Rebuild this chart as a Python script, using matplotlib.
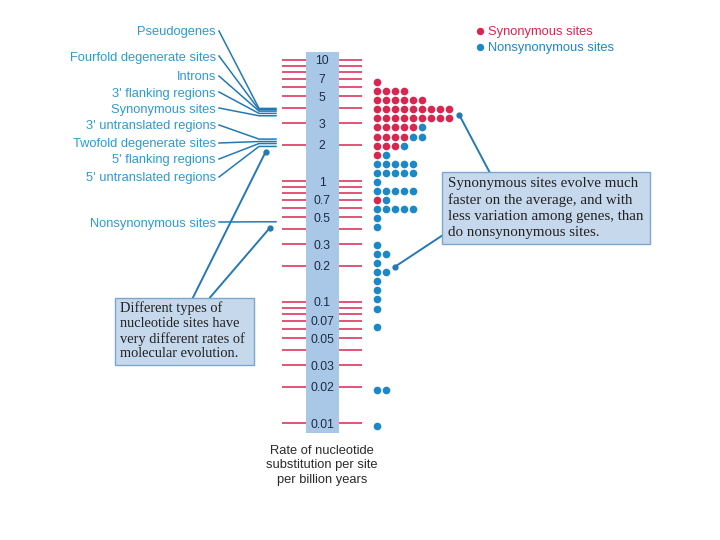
import matplotlib
matplotlib.use("Agg")
import matplotlib.pyplot as plt
from matplotlib.patches import Rectangle

# rows of dots (rate per site per billion years) and genes per row
row_rates = [6.54, 5.51, 4.64, 3.90, 3.29, 2.77, 2.33, 1.96, 1.65, 1.39,
             1.17, 0.984, 0.829, 0.697, 0.587, 0.494, 0.416, 0.295, 0.248,
             0.209, 0.176, 0.148, 0.125, 0.105, 0.0883, 0.0626, 0.0187, 0.0094]
syn_counts = [1, 4, 6, 9, 9, 5, 4, 3, 1, 0, 0, 0, 0, 1,
              0, 0, 0, 0, 0, 0, 0, 0, 0, 0, 0, 0, 0, 0]
nonsyn_counts = [0, 0, 0, 0, 0, 1, 2, 1, 1, 5, 5, 1, 5, 1,
                 5, 1, 1, 1, 2, 1, 2, 1, 1, 1, 1, 1, 2, 1]

# site types on the left and their rates
site_types = ["Pseudogenes", "Fourfold degenerate sites", "Introns",
              "3' flanking regions", "Synonymous sites", "3' untranslated regions",
              "Twofold degenerate sites", "5' flanking regions",
              "5' untranslated regions", "Nonsynonymous sites"]
site_rates = [3.98, 3.88, 3.78, 3.62, 3.46, 2.22, 2.12, 2.04, 1.93, 0.46]
site_label_y = [31, 56, 76, 92, 108, 125, 143, 159, 177, 222]  # layout only

scale_labels = ["10", "7", "5", "3", "2", "1", "0.7", "0.5", "0.3", "0.2",
                "0.1", "0.07", "0.05", "0.03", "0.02", "0.01"]
scale_ticks = [m * 10.0 ** e for e in (-2, -1, 0) for m in range(1, 10)] + [10]

RED = "#d8264f"
BLUE = "#1c88c8"
LABEL_BLUE = "#2d9ad3"
LINE_BLUE = "#2479b3"
COL = "#a9c8e7"
BOX = "#c6d8ec"
NAVY = "#1c2b45"
SANS = "Liberation Sans"
SERIF = "Liberation Serif"


def ypx(p):
    # pixel row -> rate on the log axis
    return 10 ** ((181 - p) / 121)


def fxy(x, y):
    return x / 720, 1 - y / 540


fig = plt.figure(figsize=(7.2, 5.4), dpi=100)
ax = fig.add_axes([0, 0, 1, 1])
ax.set_xlim(0, 720)
ax.set_yscale("log")
ax.set_ylim(ypx(540), ypx(0))
ax.axis("off")

# the scale column
ax.fill_betweenx([ypx(433), ypx(52)], 305.5, 339, color=COL, lw=0, zorder=1)
ax.hlines(scale_ticks, 282, 305.5, color=RED, lw=1.1, zorder=2)
ax.hlines(scale_ticks, 339, 362, color=RED, lw=1.1, zorder=2)
for lab in scale_labels:
    ax.text(322, float(lab), lab, ha="center", va="center_baseline",
            fontsize=8.8, color=NAVY, family=SANS, zorder=3)

# dots
for r, ns, nn in zip(row_rates, syn_counts, nonsyn_counts):
    for i in range(ns + nn):
        c = RED if i < ns else BLUE
        ax.plot(377.3 + 9 * i, r, "o", ms=5.5, color=c, mec="none", zorder=3)

# site type labels with leader lines
for name, r, ly in zip(site_types, site_rates, site_label_y):
    ax.text(216, ypx(ly), name, ha="right", va="center_baseline", fontsize=9.3,
            color=LABEL_BLUE, family=SANS)
    ax.plot([219, 259, 276], [ypx(ly), r, r], color=LINE_BLUE, lw=1.1,
            solid_joinstyle="miter")

# left annotation box
ax.plot([193, 265.7], [ypx(297.5), ypx(151.7)], color=LINE_BLUE, lw=1.4)
ax.plot([210, 270], [ypx(297.5), ypx(227.7)], color=LINE_BLUE, lw=1.4)
ax.plot([265.7, 270], [ypx(151.7), ypx(227.7)], "o", ms=3.5, color=LINE_BLUE)
fig.patches.append(Rectangle(fxy(115, 365), 139 / 720, 67.5 / 540,
                             transform=fig.transFigure, fc=BOX, ec="#7aa6cf",
                             lw=1.0, zorder=5))
fig.text(*fxy(120, 301.5), "Different types of\nnucleotide sites have\n"
         "very different rates of\nmolecular evolution.", ha="left", va="top",
         fontsize=10.4, family=SERIF, color="#222222",
         linespacing=1.17, zorder=6)

# right annotation box
ax.plot([459.3, 490], [ypx(115), ypx(173)], color=LINE_BLUE, lw=1.4)
ax.plot([395, 443], [ypx(266.7), ypx(235)], color=LINE_BLUE, lw=1.4)
ax.plot([459.3, 395], [ypx(115), ypx(266.7)], "o", ms=3.5, color=LINE_BLUE)
fig.patches.append(Rectangle(fxy(442, 244.5), 208 / 720, 72 / 540,
                             transform=fig.transFigure, fc=BOX, ec="#7aa6cf",
                             lw=1.0, zorder=5))
fig.text(*fxy(447.5, 177), "Synonymous sites evolve much\nfaster on the average, and with\n"
         "less variation among genes, than\ndo nonsynonymous sites.",
         ha="left", va="top", fontsize=10.8, family=SERIF,
         color="#222222", linespacing=1.3, zorder=6)

# legend
ax.plot([479.5], [ypx(31)], "o", ms=5.3, color=RED, mec="none")
ax.plot([479.5], [ypx(47)], "o", ms=5.3, color=BLUE, mec="none")
ax.text(488, ypx(31), "Synonymous sites", va="center_baseline", fontsize=9.3,
        color=RED, family=SANS)
ax.text(488, ypx(47), "Nonsynonymous sites", va="center_baseline", fontsize=9.3,
        color=BLUE, family=SANS)

# caption under the column
fig.text(*fxy(322, 444.5), "Rate of nucleotide\nsubstitution per site\nper billion years",
         ha="center", va="top", fontsize=9.3, family=SANS,
         color="#2a2a2a", linespacing=1.3)

fig.savefig("out.png", dpi=100)
